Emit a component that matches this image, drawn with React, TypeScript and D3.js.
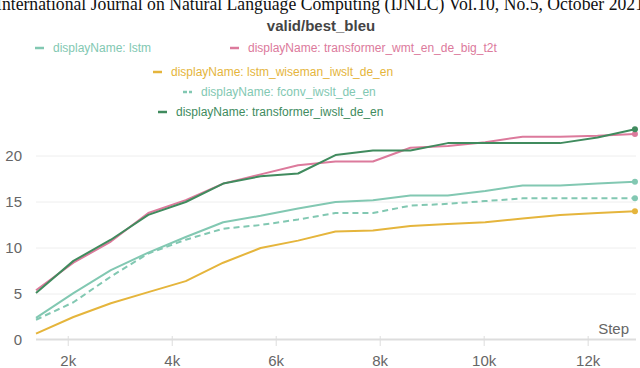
import React, { useEffect, useRef } from 'react'
import * as d3 from 'd3'

// evaluation steps (x) shared by all runs
const steps = [1380, 2100, 2820, 3540, 4260, 4980, 5700, 6420, 7140, 7860, 8580, 9300, 10020, 10740, 11460, 12180, 12900]

const lstm = [2.4, 5.1, 7.6, 9.5, 11.2, 12.8, 13.5, 14.3, 15.0, 15.2, 15.7, 15.7, 16.2, 16.8, 16.8, 17.0, 17.2]
const transformerWmt = [5.4, 8.4, 10.7, 13.8, 15.2, 17.0, 18.0, 19.0, 19.4, 19.4, 20.9, 21.1, 21.5, 22.1, 22.1, 22.2, 22.4]
const lstmWiseman = [0.7, 2.5, 4.0, 5.2, 6.4, 8.4, 10.0, 10.8, 11.8, 11.9, 12.4, 12.6, 12.8, 13.2, 13.6, 13.8, 14.0]
const fconv = [2.2, 4.1, 6.9, 9.4, 10.9, 12.1, 12.5, 13.1, 13.8, 13.8, 14.6, 14.8, 15.1, 15.4, 15.4, 15.4, 15.4]
const transformerIwslt = [5.1, 8.6, 10.9, 13.6, 15.0, 17.0, 17.8, 18.1, 20.1, 20.6, 20.6, 21.4, 21.4, 21.4, 21.4, 22.0, 22.9]

const xTicks = [2000, 4000, 6000, 8000, 10000, 12000]
const yTicks = [0, 5, 10, 15, 20]

const series = [
  { name: 'displayName: lstm', values: lstm, color: '#82c8b2', dashed: false },
  { name: 'displayName: transformer_wmt_en_de_big_t2t', values: transformerWmt, color: '#dc7a9c', dashed: false },
  { name: 'displayName: lstm_wiseman_iwslt_de_en', values: lstmWiseman, color: '#e5b53c', dashed: false },
  { name: 'displayName: fconv_iwslt_de_en', values: fconv, color: '#82c8b2', dashed: true },
  { name: 'displayName: transformer_iwslt_de_en', values: transformerIwslt, color: '#408b5e', dashed: false }
]

// legend slots (dash start x, baseline y) matching the wrapped legend rows
const legendPos = [
  [35, 52], [230, 52], [153, 76], [183, 96], [158, 116]
]

function App() {
  const svgRef = useRef()
  const width = 640
  const height = 368

  useEffect(() => {
    const svg = d3.select(svgRef.current)
    svg.selectAll('*').remove()

    const font = '"Liberation Sans", Arial, Helvetica, sans-serif'

    const x = d3.scaleLinear().domain([1380, 12920]).range([36, 636])
    const y = d3.scaleLinear().domain([0, 20]).range([340, 156])

    // page header from the paper (cut by the crop)
    svg.append('text')
      .attr('x', -4)
      .attr('y', 10)
      .attr('textLength', 648)
      .attr('lengthAdjust', 'spacingAndGlyphs')
      .style('font-family', '"Liberation Serif", "Times New Roman", serif')
      .style('font-size', '19px')
      .style('fill', '#111')
      .text('International Journal on Natural Language Computing (IJNLC) Vol.10, No.5, October 2021')

    // title
    svg.append('text')
      .attr('x', 321)
      .attr('y', 31)
      .attr('text-anchor', 'middle')
      .style('font-family', font)
      .style('font-size', '15px')
      .style('font-weight', 'bold')
      .style('fill', '#444')
      .text('valid/best_bleu')

    // legend
    series.forEach((s, i) => {
      const [lx, ly] = legendPos[i]
      const g = svg.append('g')
      g.append('line')
        .attr('x1', lx).attr('x2', lx + 9)
        .attr('y1', ly - 4).attr('y2', ly - 4)
        .attr('stroke', s.color)
        .attr('stroke-width', 2.5)
        .attr('stroke-dasharray', s.dashed ? '4,2' : null)
      g.append('text')
        .attr('x', lx + 18)
        .attr('y', ly)
        .style('font-family', font)
        .style('font-size', '12px')
        .style('fill', s.color)
        .text(s.name)
    })

    // grid
    svg.append('g')
      .selectAll('line')
      .data(yTicks.filter(d => d > 0))
      .enter().append('line')
      .attr('x1', 36).attr('x2', 636)
      .attr('y1', d => y(d)).attr('y2', d => y(d))
      .attr('stroke', '#eeeeee')
      .attr('stroke-width', 1)

    // x axis line and ticks
    svg.append('line')
      .attr('x1', 36).attr('x2', 636)
      .attr('y1', 339.5).attr('y2', 339.5)
      .attr('stroke', '#dddddd')
      .attr('stroke-width', 2)

    svg.append('g')
      .selectAll('line')
      .data(xTicks)
      .enter().append('line')
      .attr('x1', d => x(d)).attr('x2', d => x(d))
      .attr('y1', 336).attr('y2', 346)
      .attr('stroke', '#dddddd')
      .attr('stroke-width', 1)

    svg.append('g')
      .selectAll('text')
      .data(xTicks)
      .enter().append('text')
      .attr('x', d => x(d))
      .attr('y', 366)
      .attr('text-anchor', 'middle')
      .style('font-family', font)
      .style('font-size', '15px')
      .style('fill', '#666')
      .text(d => `${d / 1000}k`)

    svg.append('g')
      .selectAll('text')
      .data(yTicks)
      .enter().append('text')
      .attr('x', 22)
      .attr('y', d => y(d) + 5)
      .attr('text-anchor', 'end')
      .style('font-family', font)
      .style('font-size', '15px')
      .style('fill', '#666')
      .text(d => d)

    svg.append('text')
      .attr('x', 629)
      .attr('y', 334)
      .attr('text-anchor', 'end')
      .style('font-family', font)
      .style('font-size', '15px')
      .style('fill', '#666')
      .text('Step')

    // lines
    const line = d3.line()
      .x((d, i) => x(steps[i]))
      .y(d => y(d))

    const order = [0, 2, 3, 1, 4]
    order.forEach(i => {
      const s = series[i]
      svg.append('path')
        .datum(s.values)
        .attr('d', line)
        .attr('fill', 'none')
        .attr('stroke', s.color)
        .attr('stroke-width', 2)
        .attr('stroke-linejoin', 'round')
        .attr('stroke-dasharray', s.dashed ? '6,4' : null)

      const last = s.values.length - 1
      svg.append('circle')
        .attr('cx', x(steps[last]))
        .attr('cy', y(s.values[last]))
        .attr('r', 3)
        .attr('fill', s.color)
    })
  }, [])

  return (
    <svg
      ref={svgRef}
      width={width}
      height={height}
      style={{ position: 'absolute', left: 0, top: 0, background: '#fff' }}
    />
  )
}

export default App
